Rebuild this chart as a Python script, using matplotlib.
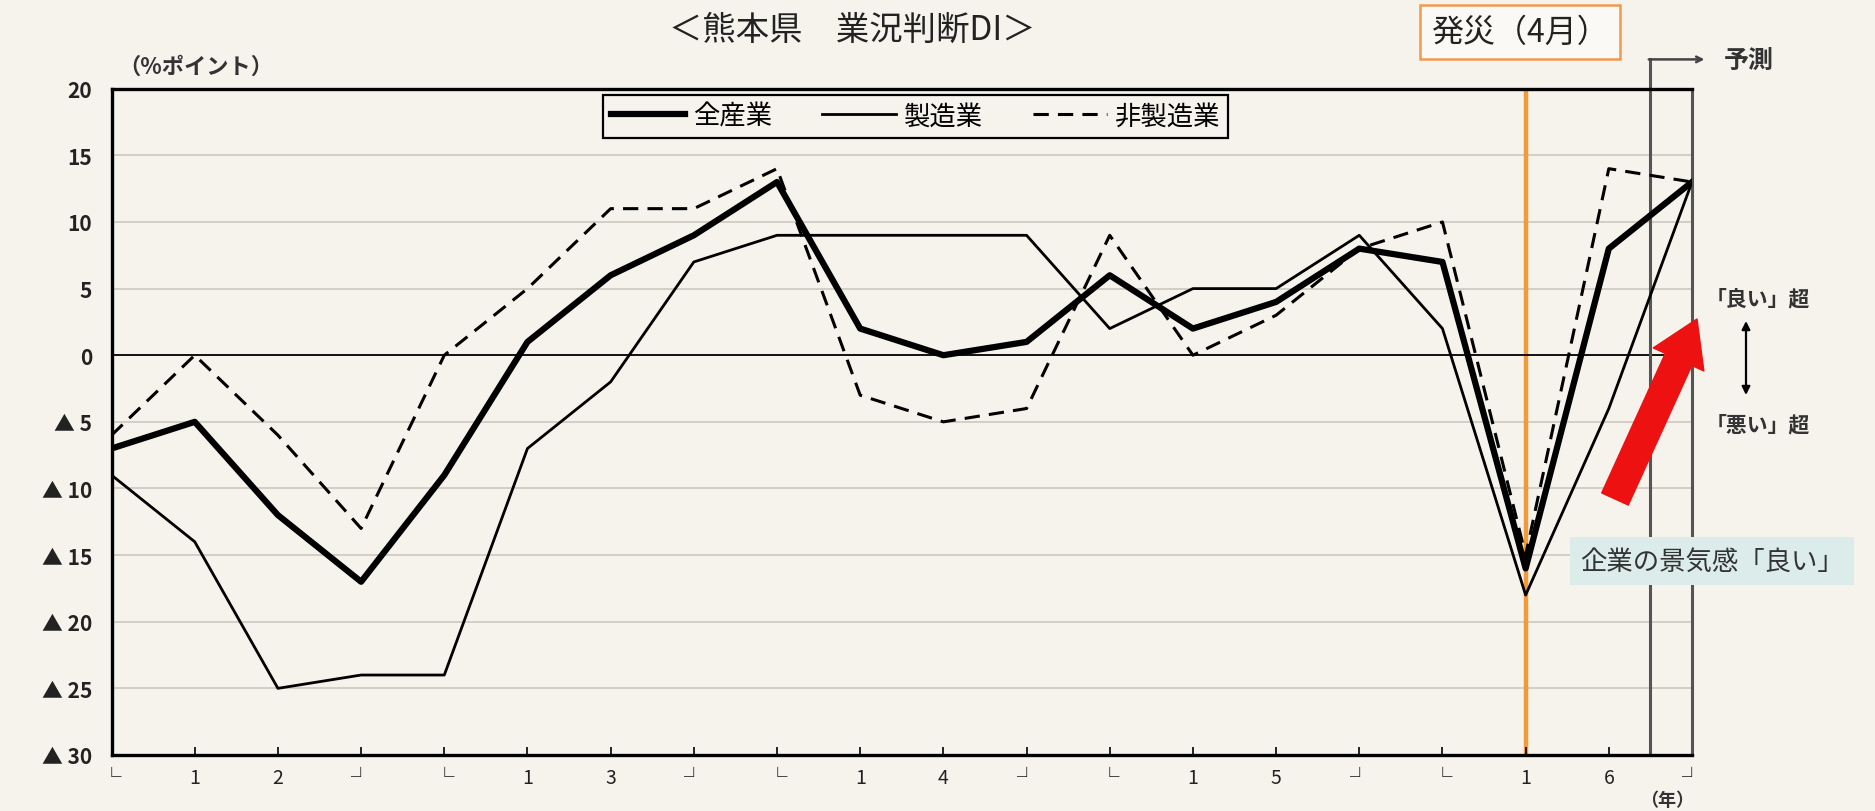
import matplotlib
matplotlib.use("Agg")
import matplotlib.pyplot as plt

plt.rcParams['font.family'] = ['Noto Sans CJK JP', 'DejaVu Sans']

# quarterly business conditions DI, Kumamoto (2012 - 2016, last point = forecast)
quarter_labels = ['└', '1', '2', '┘', '└', '1', '3', '┘', '└', '1', '4', '┘',
                  '└', '1', '5', '┘', '└', '1', '6', '┘']
all_industries = [-7, -5, -12, -17, -9, 1, 6, 9, 13, 2, 0, 1, 6, 2, 4, 8, 7, -16, 8, 13]
manufacturing = [-9, -14, -25, -24, -24, -7, -2, 7, 9, 9, 9, 9, 2, 5, 5, 9, 2, -18, -4, 13]
non_manufacturing = [-6, 0, -6, -13, 0, 5, 11, 11, 14, -3, -5, -4, 9, 0, 3, 8, 10, -15, 14, 13]
y_ticks = [20, 15, 10, 5, 0, -5, -10, -15, -20, -25, -30]
quake_idx = 17
forecast_idx = 18.5

bg = '#f6f3ed'
fig = plt.figure(figsize=(18.75, 8.12), dpi=100, facecolor=bg)
ax = fig.add_axes([0.0595, 0.069, 0.8429, 0.8205], facecolor=bg)

x = list(range(len(quarter_labels)))

for v in y_ticks:
    if v == 0:
        ax.axhline(0, color='black', lw=1.3, zorder=2)
    elif v not in (20, -30):
        ax.axhline(v, color='#cdc8c0', lw=1.2, zorder=1)

ax.axvline(quake_idx, color='#f29a38', lw=3.2, zorder=1.5)

ax.plot(x, all_industries, color='black', lw=4.5, label='全産業', zorder=4)
ax.plot(x, manufacturing, color='black', lw=2.0, label='製造業', zorder=3)
ax.plot(x, non_manufacturing, color='black', lw=2.2, ls=(0, (5, 3)), label='非製造業', zorder=3)

ax.set_xlim(0, len(x) - 1)
ax.set_ylim(-30, 20)
ax.set_xticks(x)
ax.set_xticklabels(quarter_labels, fontsize=14, color='#222')
ax.set_yticks(y_ticks)
ax.set_yticklabels([str(v) if v >= 0 else '▲ ' + str(-v) for v in y_ticks],
                   fontsize=15, fontweight='bold', color='#222')
ax.tick_params(axis='x', direction='in', length=6, width=1.2, pad=9)
ax.tick_params(axis='y', length=0, pad=14)

for side in ('left', 'bottom', 'top'):
    ax.spines[side].set_linewidth(2.4)
    ax.spines[side].set_color('black')
ax.spines['right'].set_linewidth(2.2)
ax.spines['right'].set_color('#555')

# forecast marker line with bracket arrow
ax.plot([forecast_idx, forecast_idx], [-30, 22.2], color='#555', lw=2.2,
        clip_on=False, zorder=2)
ax.annotate('', xy=(19.15, 22.2), xytext=(forecast_idx - 0.02, 22.2),
            arrowprops=dict(arrowstyle='->', color='#444', lw=1.8,
                            shrinkA=0, shrinkB=0),
            annotation_clip=False)
ax.text(19.38, 22.2, '予測', fontsize=18, fontweight='bold', color='#333',
        va='center', ha='left', clip_on=False)

leg = ax.legend(loc='upper left', bbox_to_anchor=(0.311, 0.991), ncol=3,
                fontsize=19, frameon=True, fancybox=False, handlelength=2.8,
                columnspacing=1.9, handletextpad=0.3, borderpad=0.3,
                borderaxespad=0)
leg.get_frame().set_edgecolor('black')
leg.get_frame().set_linewidth(1.6)
leg.get_frame().set_facecolor(bg)
leg.get_frame().set_alpha(1)

ax.text(0.004, 1.033, '（%ポイント）', transform=ax.transAxes, fontsize=16,
        fontweight='bold', color='#333', ha='left', va='center')
fig.text(1694, 11, '（年）', transform=None, fontsize=13,
         fontweight='bold', color='#333', ha='right', va='center')

fig.text(852, 782, '＜熊本県　業況判断DI＞', transform=None, fontsize=24,
         ha='center', va='center', color='#222')
fig.text(1520, 779, '発災（4月）', transform=None, fontsize=23,
         ha='center', va='center', color='#222',
         bbox=dict(boxstyle='square,pad=0.35', facecolor='#fbf9f5',
                   edgecolor='#ef9a50', lw=1.8))

# red arrow and good/bad legend on the right
fig.add_artist(plt.matplotlib.text.Annotation(
    '', xy=(1697, 492), xytext=(1615, 312),
    xycoords='figure pixels', textcoords='figure pixels',
    arrowprops=dict(arrowstyle='simple,head_width=2.0,head_length=1.6,tail_width=1.05',
                    mutation_scale=20, color='#ee1111', shrinkA=0, shrinkB=0)))
fig.text(1758, 513, '「良い」超', transform=None, fontsize=15, fontweight='bold',
         ha='center', va='center', color='#333')
fig.text(1758, 387, '「悪い」超', transform=None, fontsize=15, fontweight='bold',
         ha='center', va='center', color='#333')
fig.add_artist(plt.matplotlib.text.Annotation(
    '', xy=(1746, 490), xytext=(1746, 416),
    xycoords='figure pixels', textcoords='figure pixels',
    arrowprops=dict(arrowstyle='<|-|>', color='black', lw=1.6,
                    mutation_scale=12, shrinkA=0, shrinkB=0)))
fig.text(1712, 250, '企業の景気感「良い」', transform=None, fontsize=19,
         ha='center', va='center', color='#333',
         bbox=dict(boxstyle='square,pad=0.4', facecolor='#dcecea', edgecolor='none'))

fig.savefig('out.png', dpi=100, facecolor=bg)
